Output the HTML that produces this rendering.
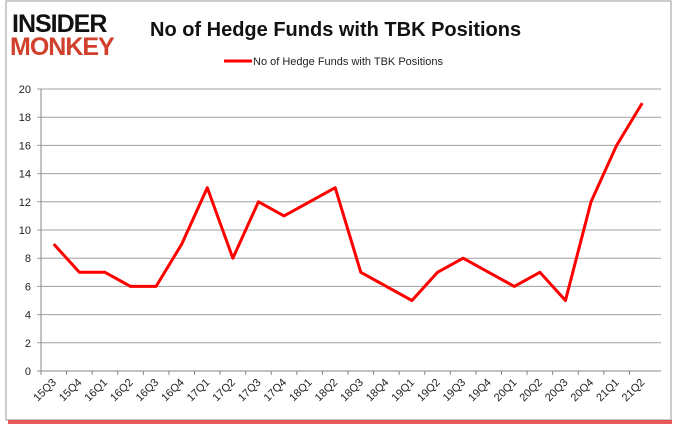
<!DOCTYPE html>
<html><head><meta charset="utf-8"><style>
body{margin:0;background:#fff;font-family:"Liberation Sans",sans-serif;}
</style></head><body>
<svg width="678" height="431" viewBox="0 0 678 431">
<rect x="6" y="1" width="665" height="419" fill="#fff" stroke="#999"/>
<rect x="8" y="420" width="664" height="4" fill="#e53030" opacity="0.8"/>
<text x="12" y="32" font-size="25" font-weight="bold" fill="#111" font-family="Liberation Sans" letter-spacing="-1">INSIDER</text>
<text x="10" y="55" font-size="25" font-weight="bold" fill="#d0402c" font-family="Liberation Sans" letter-spacing="-1">MONKEY</text>
<text x="150" y="36" font-size="20" font-weight="bold" fill="#111">No of Hedge Funds with TBK Positions</text>
<line x1="224" y1="61" x2="252" y2="61" stroke="#f00" stroke-width="3"/>
<text x="253" y="65" font-size="11" fill="#222">No of Hedge Funds with TBK Positions</text>
<g id="axes"></g>
<g id="plot"></g>
</svg>
<script>
const categories=["15Q3","15Q4","16Q1","16Q2","16Q3","16Q4","17Q1","17Q2","17Q3","17Q4","18Q1","18Q2","18Q3","18Q4","19Q1","19Q2","19Q3","19Q4","20Q1","20Q2","20Q3","20Q4","21Q1","21Q2"];
const values=[9,7,7,6,6,9,13,8,12,11,12,13,7,6,5,7,8,7,6,7,5,12,16,19];
const yTicks=[0,2,4,6,8,10,12,14,16,18,20];
const L=41,R=661,PR=655,T=89,B=371,NS="http://www.w3.org/2000/svg";
const step=(PR-L)/categories.length;
const xs=i=>L+step*(i+0.5);
const ys=v=>B-(v/20)*(B-T);
const ax=document.getElementById('axes'),pl=document.getElementById('plot');
function mk(t,a,p){const e=document.createElementNS(NS,t);for(const k in a)e.setAttribute(k,a[k]);p.appendChild(e);return e;}
yTicks.forEach(v=>{
 const g=mk('line',{x1:L-4,x2:R,y1:ys(v),y2:ys(v),stroke:v===0?'#888':'#a0a0a0','stroke-width':1},ax);
 
 
 const t=mk('text',{x:L-10,y:ys(v)+4,'font-size':11,'text-anchor':'end',fill:'#222'},ax);t.textContent=v;
 
 
});
const ya=mk('line',{x1:L,x2:L,y1:T,y2:B,stroke:'#888'},ax);


categories.forEach((c,i)=>{
 const tk=mk('line',{x1:L+step*i,x2:L+step*i,y1:B,y2:B+4,stroke:'#888'},ax);
 
 
 const x=xs(i)+3,y=B+12;
 const t=mk('text',{x:x,y:y,'font-size':11,'text-anchor':'end',fill:'#222',transform:`rotate(-45 ${x} ${y})`},ax);t.textContent=c;
 
 
});
const line=mk('polyline',{points:values.map((v,i)=>xs(i)+','+ys(v)).join(' '),fill:'none',stroke:'#f00','stroke-width':3,'stroke-linejoin':'round'},pl);


</script>
</body></html>
